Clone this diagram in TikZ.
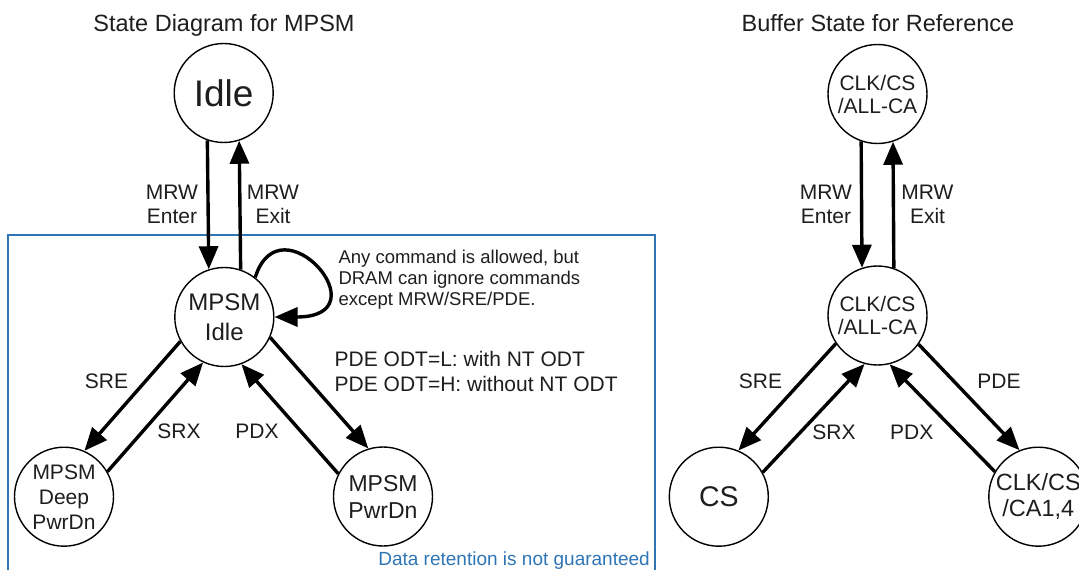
\documentclass[tikz,border=0pt]{standalone}
\usepackage{fontspec}
\setmainfont{Liberation Sans}
\usetikzlibrary{arrows.meta}
\definecolor{dblue}{RGB}{46,117,182}
\definecolor{ink}{RGB}{30,30,30}
\begin{document}
\begin{tikzpicture}[x=1pt,y=-1pt,
  state/.style={circle, draw=black, line width=1.4pt, minimum size=99pt, inner sep=0pt, align=center, text=ink},
  conn/.style={line width=3.4pt, -{Triangle[length=23pt,width=19pt]}},
  lbl/.style={align=center, inner sep=0pt, text=ink, font=\fontsize{21}{24}\selectfont},
  ttl/.style={anchor=base, inner sep=0pt, text=ink, font=\fontsize{23.5}{26}\selectfont}]
\useasboundingbox (0,0) rectangle (1079,570);
\fill[white] (0,0) rectangle (1079,570);

% frame of the MPSM region
\draw[dblue, line width=1.6pt] (8,572) -- (8,235) -- (655,235) -- (655,572);

% titles
\node[ttl] (t1) at (224,31) {State Diagram for MPSM};
\node[ttl] (t2) at (878,31) {Buffer State for Reference};

% left states
\node[state, font=\fontsize{37}{40}\selectfont] (idle) at (223.7,93) {Idle};
\node[state, font=\fontsize{24}{30}\selectfont] (mi) at (224.3,317) {MPSM\\Idle};
\node[state, font=\fontsize{21}{25}\selectfont] (dp) at (64,496.7) {MPSM\\Deep\\PwrDn};
\node[state, font=\fontsize{23}{27}\selectfont] (pd) at (383,496.5) {MPSM\\PwrDn};

% right states
\node[state, font=\fontsize{21}{23}\selectfont] (bt) at (877.5,94) {CLK/CS\\/ALL-CA};
\node[state, font=\fontsize{21}{23}\selectfont] (bm) at (877.5,315.5) {CLK/CS\\/ALL-CA};
\node[state, font=\fontsize{28.5}{30}\selectfont] (cs) at (718.8,496.7) {CS};
\node[state, font=\fontsize{23.5}{26.5}\selectfont] (ca) at (1038.3,496.7) {CLK/CS\\/CA1,4};

% left connectors
\draw[conn] (idle.251.3) -- (mi.108.7);
\draw[conn] (mi.71.3) -- (idle.288.7);
\draw[conn] (mi.209) -- (dp.66.5);
\draw[conn] (dp.30.4) -- (mi.245.4);
\draw[conn] (mi.336.7) -- (pd.107);
\draw[conn] (pd.153.4) -- (mi.290.7);
\draw[conn] (mi.52) .. controls +(25,-80) and +(110,0) .. (mi.0);

% right connectors
\draw[conn] (bt.251.3) -- (bm.108.7);
\draw[conn] (bm.71.3) -- (bt.288.7);
\draw[conn] (bm.214.4) -- (cs.67.3);
\draw[conn] (cs.29.3) -- (bm.255.9);
\draw[conn] (bm.325.6) -- (ca.112.7);
\draw[conn] (ca.150.7) -- (bm.284.1);

% labels
\node[lbl] (lenter) at (172,204.5) {MRW\\Enter};
\node[lbl] (lexit) at (273,204.5) {MRW\\Exit};
\node[lbl] (renter) at (826,204.5) {MRW\\Enter};
\node[lbl] (rexit) at (927.5,204.5) {MRW\\Exit};
\node[lbl] (lsre) at (106.5,381) {SRE};
\node[lbl] (lsrx) at (179,431) {SRX};
\node[lbl] (lpdx) at (257,431) {PDX};
\node[lbl] (rsre) at (760.5,381) {SRE};
\node[lbl] (rpde) at (999,381) {PDE};
\node[lbl] (rsrx) at (834,432) {SRX};
\node[lbl] (rpdx) at (911.7,432) {PDX};

\node[anchor=north west, align=left, inner sep=0pt, text=ink, font=\fontsize{18.5}{21}\selectfont] (note) at (338.3,250)
  {Any command is allowed, but\\DRAM can ignore commands\\except MRW/SRE/PDE.};
\node[anchor=north west, align=left, inner sep=0pt, text=ink, font=\fontsize{21}{24.5}\selectfont] (pdenote) at (334.5,351.5)
  {PDE ODT=L: with NT ODT\\PDE ODT=H: without NT ODT};
\node[anchor=base east, inner sep=0pt, text=dblue, font=\fontsize{19}{22}\selectfont] (dr) at (650,565)
  {Data retention is not guaranteed};
\end{tikzpicture}
\end{document}
